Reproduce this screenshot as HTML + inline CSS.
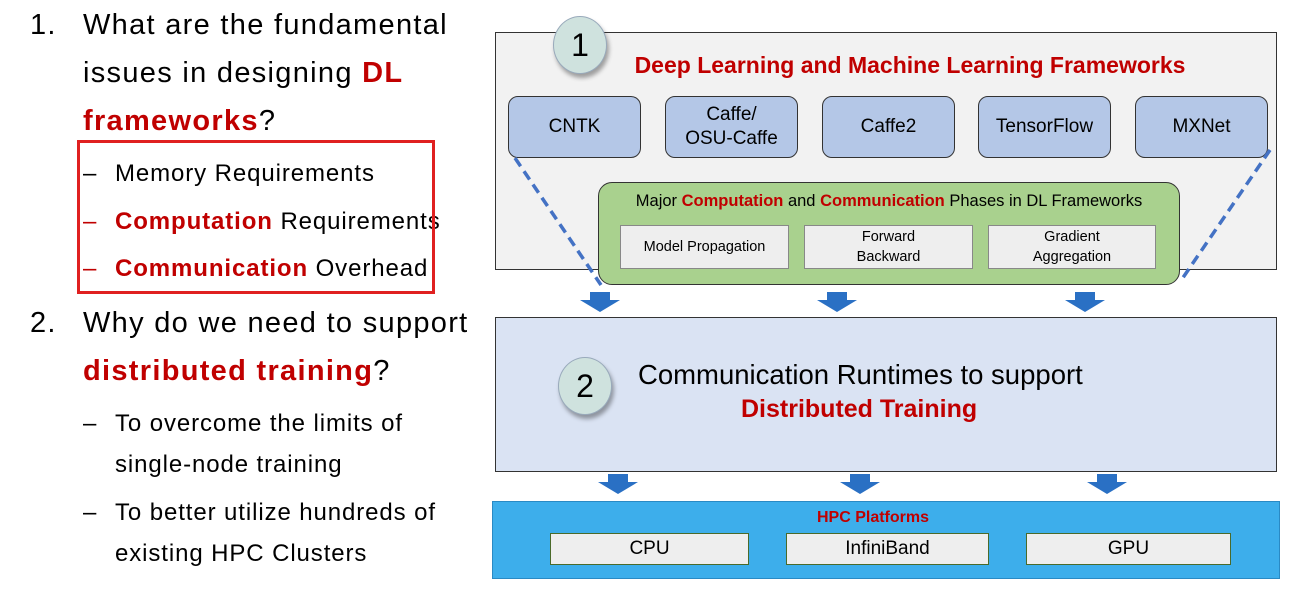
<!DOCTYPE html>
<html><head><meta charset="utf-8"><style>
body{margin:0;width:1292px;height:599px;background:#fff;position:relative;overflow:hidden;font-family:"Liberation Sans",sans-serif}
.a{position:absolute}
.t{position:absolute;white-space:nowrap;color:#000}
.r{color:#c00000;font-weight:bold}
.fw{position:absolute;top:96px;width:131px;height:60px;background:#b4c7e7;border:1.5px solid #333;border-radius:10px;display:flex;align-items:center;justify-content:center;text-align:center;font-size:19px;line-height:24px}
.ib{position:absolute;background:#eee;border:1.5px solid #888;display:flex;align-items:center;justify-content:center;text-align:center;font-size:14.5px;line-height:20px}
.hb{position:absolute;top:533px;height:30px;background:#eee;border:1.5px solid #4a6a2a;display:flex;align-items:center;justify-content:center;font-size:19px}
.circ{position:absolute;width:52px;height:56px;border-radius:50%;background:#cfe2de;border:1px solid #9ab;box-shadow:2px 4px 4px rgba(0,0,0,.35);display:flex;align-items:center;justify-content:center;font-size:32px}
.big{font-size:29px;line-height:48px;letter-spacing:1.3px}
.sm{font-size:24px;letter-spacing:0.9px}
</style></head><body>
<div class="t big" style="left:30px;top:1px">1.</div>
<div class="t big" style="left:83px;top:1px">What are the fundamental<br>issues in designing <span class="r">DL</span><br><span class="r">frameworks</span>?</div>
<div class="t sm" style="left:83px;top:150px;line-height:47.5px">–<br><span style="color:#c00000">–</span><br><span style="color:#c00000">–</span></div>
<div class="t sm" style="left:115px;top:150px;line-height:47.5px">Memory Requirements<br><span class="r">Computation</span> Requirements<br><span class="r">Communication</span> Overhead</div>
<div class="a" style="left:77px;top:140px;width:352px;height:148px;border:3px solid #e02020"></div>
<div class="t big" style="left:30px;top:299px">2.</div>
<div class="t big" style="left:83px;top:299px">Why do we need to support<br><span class="r">distributed training</span>?</div>
<div class="t sm" style="left:83px;top:403px;line-height:41px">–</div>
<div class="t sm" style="left:115px;top:403px;line-height:41px">To overcome the limits of<br>single-node training</div>
<div class="t sm" style="left:83px;top:492px;line-height:41px">–</div>
<div class="t sm" style="left:115px;top:492px;line-height:41px">To better utilize hundreds of<br>existing HPC Clusters</div>

<div class="a" style="left:495px;top:32px;width:780px;height:236px;background:#f2f2f2;border:1.5px solid #333"></div>
<div class="circ" style="left:553px;top:16px">1</div>
<div class="t r" style="left:0;width:1820px;text-align:center;top:52px;font-size:23px">Deep Learning and Machine Learning Frameworks</div>
<div class="fw" style="left:508px">CNTK</div>
<div class="fw" style="left:665px">Caffe/<br>OSU-Caffe</div>
<div class="fw" style="left:822px">Caffe2</div>
<div class="fw" style="left:978px">TensorFlow</div>
<div class="fw" style="left:1135px">MXNet</div>
<div class="a" style="left:598px;top:182px;width:580px;height:101px;background:#a9d18e;border:1.5px solid #333;border-radius:14px"></div>
<div class="t" style="left:598px;width:582px;text-align:center;top:192px;font-size:16.5px">Major <span class="r">Computation</span> and <span class="r">Communication</span> Phases in DL Frameworks</div>
<div class="ib" style="left:620px;top:225px;width:167px;height:42px">Model Propagation</div>
<div class="ib" style="left:804px;top:225px;width:167px;height:42px">Forward<br>Backward</div>
<div class="ib" style="left:988px;top:225px;width:166px;height:42px">Gradient<br>Aggregation</div>
<svg class="a" style="left:0;top:0" width="1292" height="599">
<g stroke="#4472c4" stroke-width="3.5" stroke-dasharray="10,6" fill="none">
<line x1="515" y1="158" x2="601" y2="285"/><line x1="1270" y1="150" x2="1180" y2="282"/></g>
<g fill="#2a70c4">
<path d="M590 292h20v8h10l-20 12-20-12h10z"/>
<path d="M827 292h20v8h10l-20 12-20-12h10z"/>
<path d="M1075 292h20v8h10l-20 12-20-12h10z"/>
<path d="M608 474h20v8h10l-20 12-20-12h10z"/>
<path d="M850 474h20v8h10l-20 12-20-12h10z"/>
<path d="M1097 474h20v8h10l-20 12-20-12h10z"/>
</g></svg>
<div class="a" style="left:495px;top:317px;width:780px;height:153px;background:#dae3f3;border:1.5px solid #333"></div>
<div class="circ" style="left:558px;top:357px">2</div>
<div class="t" style="left:638px;top:359px;font-size:27.5px">Communication Runtimes to support</div>
<div class="t r" style="left:741px;top:395px;font-size:25px">Distributed Training</div>
<div class="a" style="left:492px;top:501px;width:786px;height:76px;background:#3daeeb;border:1px solid #2a8ac4"></div>
<div class="t r" style="left:492px;width:762px;text-align:center;top:509px;font-size:16px">HPC Platforms</div>
<div class="hb" style="left:550px;width:197px">CPU</div>
<div class="hb" style="left:786px;width:201px">InfiniBand</div>
<div class="hb" style="left:1026px;width:203px">GPU</div>
</body></html>
